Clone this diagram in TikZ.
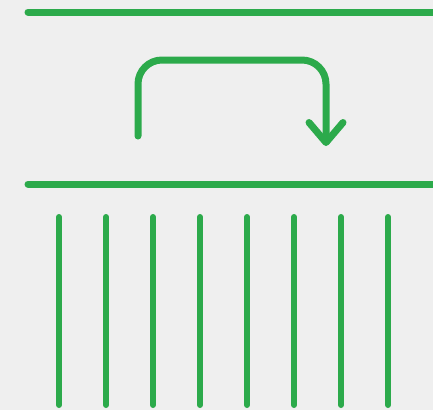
\documentclass[tikz,border=0pt]{standalone}
\usepackage{tikz}
\usetikzlibrary{arrows.meta}
\definecolor{lanegreen}{RGB}{44,170,75}
\definecolor{paper}{RGB}{239,239,239}

\begin{document}
\begin{tikzpicture}[
    x=1pt, y=-1pt,
    rail/.style={draw=lanegreen, line width=7pt, line cap=round},
    post/.style={draw=lanegreen, line width=6pt, line cap=round},
    jump/.style={draw=lanegreen, line width=7pt, line cap=round, rounded corners=24pt,
                 -{Straight Barb[length=20pt, width=34pt, round]}}
]
  % background and size
  \fill[paper] (0,0) rectangle (433,410);
  \useasboundingbox (0,0) rectangle (433,410);

  % the two rails
  \coordinate (topL) at (28,12);
  \coordinate (topR) at (440,12);
  \coordinate (midL) at (28,184);
  \coordinate (midR) at (440,184);
  \draw[rail] (topL) -- (topR);
  \draw[rail] (midL) -- (midR);

  % the hop over
  \coordinate (from) at (138,136);
  \coordinate (to) at (326,146);
  \draw[jump] (from) |- (232,60) -| (to);

  % posts below
  \foreach \i in {0,...,7}
    \draw[post] (59+47*\i,217) -- (59+47*\i,405);
\end{tikzpicture}
\end{document}
